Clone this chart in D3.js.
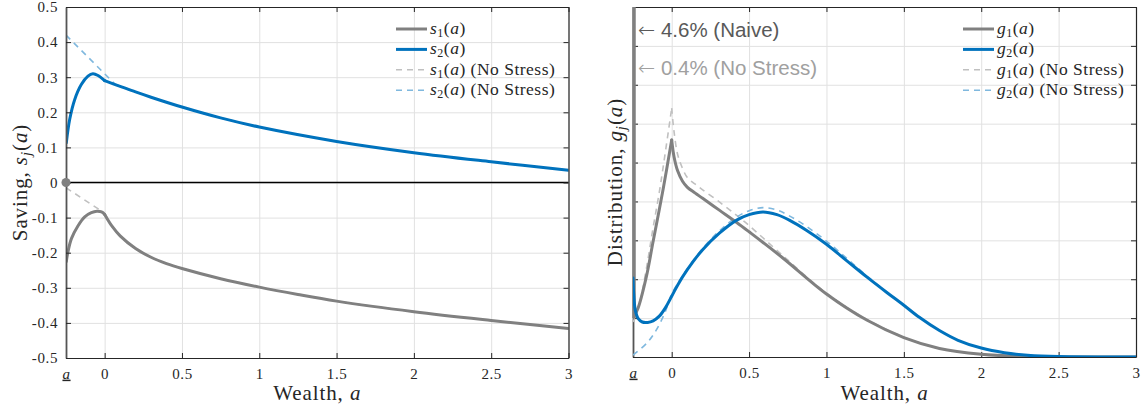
<!DOCTYPE html>
<html><head><meta charset="utf-8">
<script src="https://cdn.jsdelivr.net/npm/d3@7"></script>
<style>body{margin:0;background:#fff} svg{display:block}</style>
</head><body><svg id="c" width="1144" height="411"></svg>
<script>
// ---------- data ----------
const aMin = -0.25, aMax = 3;
const xTicks = [-0.25, 0, 0.5, 1, 1.5, 2, 2.5, 3];
const xTickLabels = ["a", "0", "0.5", "1", "1.5", "2", "2.5", "3"];
const sTicks = [-0.5, -0.4, -0.3, -0.2, -0.1, 0, 0.1, 0.2, 0.3, 0.4, 0.5];
const sTickLabels = ["-0.5", "-0.4", "-0.3", "-0.2", "-0.1", "0", "0.1", "0.2", "0.3", "0.4", "0.5"];
const gTicks = [0, 1, 2, 3, 4, 5, 6, 7, 8, 9];

// savings, s1 and s2
const s1A = [-0.248, -0.237, -0.215, -0.173, -0.129, -0.086, -0.05, -0.02, 0, 0.05, 0.1, 0.2, 0.3, 0.4, 0.5, 0.75, 1, 1.25, 1.5, 2, 2.5, 3];
const s1V = [-0.225, -0.197, -0.16, -0.124, -0.098, -0.086, -0.082, -0.084, -0.091, -0.126, -0.152, -0.188, -0.213, -0.231, -0.245, -0.274, -0.298, -0.319, -0.338, -0.368, -0.393, -0.416];
const s2A = [-0.248, -0.226, -0.194, -0.151, -0.108, -0.076, -0.043, 0, 0.1, 0.2, 0.3, 0.5, 0.75, 1, 1.5, 2, 2.5, 3];
const s2V = [0.113, 0.18, 0.236, 0.279, 0.303, 0.31, 0.305, 0.29, 0.274, 0.258, 0.243, 0.215, 0.184, 0.158, 0.117, 0.085, 0.059, 0.035];
// no-stress savings
const s1nsA = [-0.25, 0, 0.05, 0.1, 0.2, 0.3, 0.4, 0.5, 0.75, 1, 1.25, 1.5, 2, 2.5, 3];
const s1nsV = [-0.015, -0.087, -0.126, -0.152, -0.188, -0.213, -0.231, -0.245, -0.274, -0.298, -0.319, -0.338, -0.368, -0.393, -0.416];
const s2nsA = [-0.25, 0.065, 0.1, 0.2, 0.3, 0.5, 0.75, 1, 1.5, 2, 2.5, 3];
const s2nsV = [0.42, 0.281, 0.274, 0.258, 0.243, 0.215, 0.184, 0.158, 0.117, 0.085, 0.059, 0.035];

// distributions (grid units)
const g1A = [-0.25, -0.218, -0.164, -0.121, -0.056, 0, 0.015, 0.039, 0.07, 0.1, 0.15, 0.2, 0.31, 0.42, 0.5, 0.72, 1, 1.26, 1.5, 1.73, 2, 2.25, 2.5, 3];
const g1V = [1.0, 1.25, 2.06, 2.95, 4.3, 5.58, 5.15, 4.78, 4.52, 4.37, 4.22, 4.08, 3.77, 3.46, 3.22, 2.54, 1.62, 0.95, 0.5, 0.22, 0.07, 0.015, 0, 0];
const g2A = [-0.25, -0.245, -0.235, -0.215, -0.19, -0.155, -0.12, -0.08, -0.04, 0, 0.04, 0.1, 0.2, 0.31, 0.42, 0.5, 0.59, 0.68, 0.76, 0.87, 1, 1.13, 1.26, 1.39, 1.5, 1.6, 1.73, 1.85, 2, 2.15, 2.3, 2.5, 3];
const g2V = [2.03, 1.6, 1.2, 0.98, 0.9, 0.89, 0.93, 1.05, 1.27, 1.56, 1.86, 2.24, 2.76, 3.19, 3.52, 3.66, 3.73, 3.66, 3.52, 3.26, 2.9, 2.48, 2.06, 1.66, 1.33, 1.02, 0.68, 0.43, 0.23, 0.11, 0.045, 0.01, 0];
const g1nsA = [-0.25, -0.207, -0.162, -0.123, -0.078, 0, 0.015, 0.039, 0.07, 0.1, 0.15, 0.2, 0.31, 0.42, 0.5, 0.72, 1, 1.26, 1.5, 1.73, 2, 2.25, 2.5, 3];
const g1nsV = [0.9, 1.39, 2.31, 3.26, 4.29, 6.4, 5.8, 5.2, 4.85, 4.62, 4.45, 4.3, 3.98, 3.64, 3.38, 2.6, 1.64, 0.97, 0.51, 0.22, 0.07, 0.015, 0, 0];
const g2nsA = [-0.25, -0.16, -0.1, -0.045, 0, 0.05, 0.1, 0.2, 0.31, 0.42, 0.5, 0.59, 0.68, 0.76, 0.87, 1, 1.13, 1.26, 1.39, 1.5, 1.6, 1.73, 1.85, 2, 2.15, 2.3, 2.5, 3];
const g2nsV = [0.05, 0.36, 0.69, 1.13, 1.62, 1.96, 2.26, 2.79, 3.25, 3.6, 3.76, 3.84, 3.78, 3.63, 3.36, 2.98, 2.54, 2.09, 1.67, 1.34, 1.03, 0.68, 0.43, 0.23, 0.11, 0.045, 0.01, 0];

const massNaive = "4.6%", massNoStress = "0.4%";

// ---------- styles ----------
const cGray = "#808080", cBlue = "#0072BD", cGrayNS = "#c0c0c0", cBlueNS = "#7fb8de";
const serif = "'Liberation Serif', 'Times New Roman', serif";
const sans = "'Liberation Sans', Arial, sans-serif";

const svg = d3.select("#c");
const zip = (A, V) => A.map((a, i) => ({a, v: V[i]}));

function panel(x0, x1, yTop, yBot, yDomain, yTickVals, id) {
  const x = d3.scaleLinear().domain([aMin, aMax]).range([x0, x1]);
  const y = d3.scaleLinear().domain(yDomain).range([yBot, yTop]);
  const g = svg.append("g");
  g.append("g").attr("transform", `translate(0,${yBot})`)
    .call(d3.axisBottom(x).tickValues(xTicks.slice(1)).tickSize(-(yBot - yTop)).tickFormat(""))
    .call(s => { s.select(".domain").remove(); s.selectAll("line").attr("stroke", "#e1e1e1"); });
  g.append("g").attr("transform", `translate(${x0},0)`)
    .call(d3.axisLeft(y).tickValues(yTickVals).tickSize(-(x1 - x0)).tickFormat(""))
    .call(s => { s.select(".domain").remove(); s.selectAll("line").attr("stroke", "#e1e1e1"); });
  svg.append("clipPath").attr("id", id).append("rect")
    .attr("x", x0).attr("y", yTop).attr("width", x1 - x0).attr("height", yBot - yTop);
  return {x, y, g};
}

function frame(p, x0, x1, yTop, yBot, yTickVals, yLabels, xLabelText, yl) {
  const {x, y, g} = p;
  const axC = "#262626";
  const bottom = g.append("g").attr("transform", `translate(0,${yBot})`)
    .call(d3.axisBottom(x).tickValues(xTicks).tickSizeInner(-5).tickSizeOuter(0).tickPadding(10)
      .tickFormat((d, i) => xTickLabels[i]));
  const top = g.append("g").attr("transform", `translate(0,${yTop})`)
    .call(d3.axisTop(x).tickValues(xTicks).tickSizeInner(-5).tickSizeOuter(0).tickFormat(""));
  const left = g.append("g").attr("transform", `translate(${x0},0)`)
    .call(d3.axisLeft(y).tickValues(yTickVals).tickSizeInner(-5).tickSizeOuter(0).tickPadding(8)
      .tickFormat((d, i) => yLabels ? yLabels[i] : ""));
  const right = g.append("g").attr("transform", `translate(${x1},0)`)
    .call(d3.axisRight(y).tickValues(yTickVals).tickSizeInner(-5).tickSizeOuter(0).tickFormat(""));
  [bottom, top, left, right].forEach(s => {
    s.selectAll("path.domain").attr("stroke", axC).attr("stroke-width", 1.2);
    s.selectAll(".tick line").attr("stroke", axC);
    s.selectAll("text").attr("fill", "#262626").style("font-family", serif)
      .style("font-size", "15px").style("letter-spacing", "0.6px");
  });
  left.select("path.domain").attr("stroke", "#555").attr("stroke-width", 1.8);
  bottom.selectAll(".tick").filter(d => d === aMin).select("text")
    .style("font-style", "italic").style("text-decoration", "underline");
  const xl = g.append("text").attr("x", (x0 + x1) / 2).attr("y", 400).attr("text-anchor", "middle")
    .style("font-family", serif).style("font-size", "21px").style("letter-spacing", "0.9px").attr("fill", "#262626");
  xl.append("tspan").text(xLabelText);
  xl.append("tspan").style("font-style", "italic").text("a");
  const cy = (yTop + yBot) / 2;
  const t = g.append("text").attr("transform", `translate(${yl.x},${cy}) rotate(-90)`)
    .attr("text-anchor", "middle").style("font-family", serif).style("font-size", "21px")
    .style("letter-spacing", "0.9px").attr("fill", "#262626");
  t.append("tspan").text(yl.word);
  t.append("tspan").style("font-style", "italic").text(yl.sym);
  t.append("tspan").style("font-style", "italic").style("font-size", "15px").attr("dy", 4).text("j");
  t.append("tspan").attr("dy", -4).text("(");
  t.append("tspan").style("font-style", "italic").text("a");
  t.append("tspan").text(")");
}

// draws a smooth curve; if kink is given, the curve is split there so the corner stays sharp
function drawLine(p, clipId, data, color, width, dash, kink) {
  const line = d3.line().x(d => p.x(d.a)).y(d => p.y(d.v)).curve(d3.curveCatmullRom.alpha(0.5));
  const parts = kink === undefined ? [data]
    : [data.filter(d => d.a <= kink), data.filter(d => d.a >= kink)];
  const grp = p.g.append("g").attr("clip-path", `url(#${clipId})`);
  parts.forEach(part => {
    grp.append("path").datum(part).attr("d", line).attr("fill", "none")
      .attr("stroke", color).attr("stroke-width", width)
      .attr("stroke-dasharray", dash || null)
      .attr("stroke-linejoin", "round").attr("stroke-linecap", dash ? "butt" : "round");
  });
}

function legend(p, lx, ly, sym) {
  const items = [
    {c: cGray, w: 3, d: null, sub: "1", ns: false},
    {c: cBlue, w: 3, d: null, sub: "2", ns: false},
    {c: cGrayNS, w: 1.6, d: "6,5", sub: "1", ns: true},
    {c: cBlueNS, w: 1.6, d: "6,5", sub: "2", ns: true}
  ];
  items.forEach((it, i) => {
    const yy = ly + i * 20.4;
    p.g.append("line").attr("x1", lx).attr("x2", lx + 31).attr("y1", yy).attr("y2", yy)
      .attr("stroke", it.c).attr("stroke-width", it.w).attr("stroke-dasharray", it.d);
    const t = p.g.append("text").attr("x", lx + 34).attr("y", yy + 5)
      .style("font-family", serif).style("font-size", "17.5px").style("letter-spacing", "0.5px").attr("fill", "#262626");
    t.append("tspan").style("font-style", "italic").text(sym);
    t.append("tspan").style("font-size", "12px").attr("dy", 3).text(it.sub);
    t.append("tspan").attr("dy", -3).text("(");
    t.append("tspan").style("font-style", "italic").text("a");
    t.append("tspan").text(")" + (it.ns ? " (No Stress)" : ""));
  });
}

// ---------- left panel ----------
const L = {x0: 66, x1: 568.5, yTop: 7, yBot: 358};
const pL = panel(L.x0, L.x1, L.yTop, L.yBot, [-0.5, 0.5], sTicks, "clipL");
pL.g.append("line").attr("x1", L.x0).attr("x2", L.x1).attr("y1", pL.y(0)).attr("y2", pL.y(0))
  .attr("stroke", "#000").attr("stroke-width", 1.6);
drawLine(pL, "clipL", zip(s1nsA, s1nsV), cGrayNS, 1.6, "6,5", 0);
drawLine(pL, "clipL", zip(s2nsA, s2nsV), cBlueNS, 1.6, "6,5", 0.065);
drawLine(pL, "clipL", zip(s1A, s1V), cGray, 3, null, 0);
drawLine(pL, "clipL", zip(s2A, s2V), cBlue, 3, null, 0);
frame(pL, L.x0, L.x1, L.yTop, L.yBot, sTicks, sTickLabels, "Wealth, ", {x: 27, word: "Saving, ", sym: "s"});
pL.g.append("circle").attr("cx", pL.x(aMin)).attr("cy", pL.y(0)).attr("r", 4.5).attr("fill", cGray);
legend(pL, 396, 29, "s");

// ---------- right panel ----------
const R = {x0: 633, x1: 1136, yTop: 7, yBot: 357};
const pR = panel(R.x0, R.x1, R.yTop, R.yBot, [0, 9], gTicks, "clipR");
frame(pR, R.x0, R.x1, R.yTop, R.yBot, gTicks, null, "Wealth, ", {x: 622, word: "Distribution, ", sym: "g"});
drawLine(pR, "clipR", zip(g1nsA, g1nsV), cGrayNS, 1.6, "6,5", 0);
drawLine(pR, "clipR", zip(g2nsA, g2nsV), cBlueNS, 1.6, "6,5");
// mass point at the borrowing limit
pR.g.append("line").attr("x1", pR.x(aMin) + 1).attr("x2", pR.x(aMin) + 1)
  .attr("y1", pR.y(g1V[0])).attr("y2", R.yTop).attr("stroke", cGray).attr("stroke-width", 3.5);
drawLine(pR, "clipR", zip(g1A, g1V), cGray, 3, null, 0);
drawLine(pR, "clipR", zip(g2A, g2V), cBlue, 3);
legend(pR, 963, 29, "g");
function note(yy, color, txt) {
  const t = pR.g.append("text").attr("x", 638).attr("y", yy).style("font-family", sans)
    .style("font-size", "20.5px").attr("fill", color);
  t.append("tspan").style("font-family", "'DejaVu Sans', sans-serif").style("font-weight", 200).text("\u2190");
  t.append("tspan").text(" " + txt);
}
note(37, "#595959", massNaive + " (Naive)");
note(75, "#a0a0a0", massNoStress + " (No Stress)");
</script>
</body></html>
